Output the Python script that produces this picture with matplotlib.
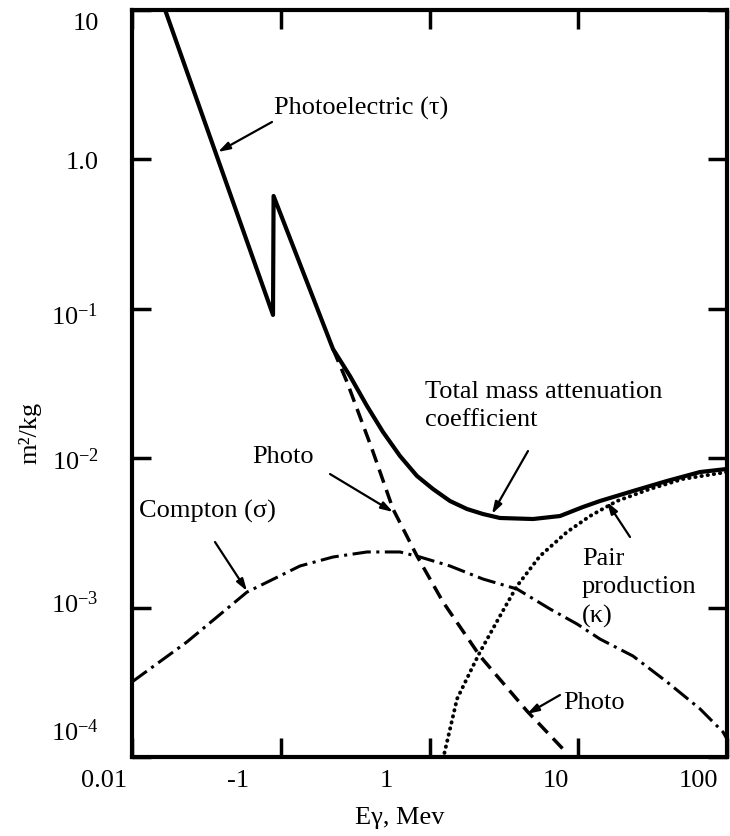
import matplotlib
matplotlib.use('Agg')
import matplotlib.pyplot as plt
from matplotlib.transforms import ScaledTranslation

plt.rcParams['font.family'] = ['Liberation Serif', 'DejaVu Serif']
plt.rcParams['mathtext.fontset'] = 'stix'

# values (energy in MeV, m^2/kg)
total_e = [0.0167, 0.0887, 0.0895, 0.2245, 0.292, 0.380, 0.4869, 0.6335,
           0.8241, 1.0556, 1.373, 1.787, 2.289, 2.978, 4.964, 7.540, 10.76,
           14.00, 23.34, 39.51, 65.84, 100]
total_mu = [10, 0.091, 0.569, 0.05381, 0.03549, 0.02236, 0.01497, 0.01034,
            0.00760, 0.00622, 0.00517, 0.00457, 0.00423, 0.003979, 0.003917,
            0.004102, 0.004715, 0.00517, 0.00603, 0.00704, 0.00808, 0.00847]

photo_e = [0.2245, 0.2789, 0.4107, 0.5684, 0.8241, 1.233, 2.185, 4.523, 7.899]
photo_mu = [0.05381, 0.03236, 0.01152, 0.00457, 0.002215, 0.001090, 4.74e-4,
            2.03e-4, 1.131e-4]

compton_e = [0.01, 0.0234, 0.0593, 0.1347, 0.2245, 0.380, 0.6335, 0.8632, 1.373,
             2.289, 3.874, 6.458, 9.809, 14.00, 23.34, 39.51, 65.84, 93.99, 100]
compton_mu = [3.18e-4, 5.89e-4, 1.27e-3, 1.899e-3, 2.181e-3, 2.357e-3, 2.357e-3,
              2.181e-3, 1.899e-3, 1.553e-3, 1.332e-3, 9.79e-4, 7.77e-4, 6.16e-4,
              4.74e-4, 3.18e-4, 2.10e-4, 1.47e-4, 1.32e-4]

pair_e = [1.233, 1.531, 1.961, 2.185, 2.978, 3.874, 5.533, 8.402, 12.00, 18.22,
          30.37, 50.6, 100]
pair_mu = [9.7e-5, 2.445e-4, 4.065e-4, 5.045e-4, 8.79e-4, 1.395e-3, 2.215e-3,
           3.206e-3, 4.10e-3, 5.17e-3, 6.22e-3, 7.26e-3, 8.08e-3]

x_ticks = [0.01, 0.1, 1, 10, 100]
x_tick_labels = ['0.01', '-1', '1', '10', '100']
y_ticks = [10, 1, 0.1, 0.01, 0.001, 0.0001]
y_tick_labels = ['10', '1.0', r'$\mathregular{10^{-1}}$', r'$\mathregular{10^{-2}}$',
                 r'$\mathregular{10^{-3}}$', r'$\mathregular{10^{-4}}$']

fig = plt.figure(figsize=(7.3, 8.37), dpi=100)
ax = fig.add_axes([132 / 730, 79 / 837, 595 / 730, 747 / 837])
ax.set_xscale('log')
ax.set_yscale('log')
ax.set_xlim(0.01, 100)
ax.set_ylim(1e-4, 10)

ax.plot(total_e, total_mu, color='black', lw=3.0, solid_joinstyle='round')
ax.plot(photo_e, photo_mu, color='black', lw=2.5, linestyle=(0, (4, 2.2)))
ax.plot(compton_e, compton_mu, color='black', lw=2.2, linestyle=(0, (6, 1.8, 1, 1.8)))
ax.plot(pair_e, pair_mu, color='black', lw=2.8, linestyle=(0, (0.1, 1.5)),
        dash_capstyle='round')

for s in ax.spines.values():
    s.set_linewidth(3)
ax.minorticks_off()
ax.tick_params(which='major', direction='in', top=True, right=True,
               length=14, width=2.5, labelsize=19)
ax.tick_params(axis='y', pad=24)
ax.tick_params(axis='x', pad=9)
ax.set_xticks(x_ticks)
ax.set_xticklabels(x_tick_labels)
ax.set_yticks(y_ticks)
ax.set_yticklabels(y_tick_labels)

# labels in the scan sit left of their ticks
x_shift = [-28, -43, -43, -22, -29]
for lab, dx in zip(ax.get_xticklabels(), x_shift):
    lab.set_transform(lab.get_transform() + ScaledTranslation(dx / 100, 0, fig.dpi_scale_trans))
y_shift = [-11, 0, -4, 0, 6, 28]
for lab, dy in zip(ax.get_yticklabels(), y_shift):
    lab.set_transform(lab.get_transform() + ScaledTranslation(0, dy / 100, fig.dpi_scale_trans))

fig.text(400 / 730, 1 - 818 / 837, 'Eγ, Mev', fontsize=19, ha='center', va='center')
fig.text(30 / 730, 1 - 433 / 837, 'm²/kg', fontsize=19, ha='center', va='center', rotation=90)

arrow = dict(arrowstyle='-|>,head_length=0.7,head_width=0.22', color='black',
             lw=1.6, shrinkA=0, shrinkB=0)
notes = [
    ('Photoelectric (τ)', (0.2387, 0.8701), (0.2353, 0.8501), (0.1445, 0.8099)),
    ('Total mass attenuation\ncoefficient', (0.4924, 0.4712), (0.6655, 0.4096), (0.6050, 0.3253)),
    ('Photo', (0.2017, 0.4029), (0.3328, 0.3788), (0.4387, 0.3280)),
    ('Compton (σ)', (0.0118, 0.3307), (0.1395, 0.2878), (0.1933, 0.2222)),
    ('Pair\nproduction\n(κ)', (0.7563, 0.2276), (0.8370, 0.2945), (0.7983, 0.3414)),
    ('Photo', (0.7244, 0.0736), (0.7193, 0.0830), (0.6639, 0.0576)),
]
for txt, pos, tail, tip in notes:
    ax.text(pos[0], pos[1], txt, transform=ax.transAxes, fontsize=19,
            ha='left', va='center', linespacing=1.4)
    ax.annotate('', xy=tip, xytext=tail, xycoords='axes fraction',
                textcoords='axes fraction', arrowprops=arrow)

fig.savefig('out.png', dpi=100)
